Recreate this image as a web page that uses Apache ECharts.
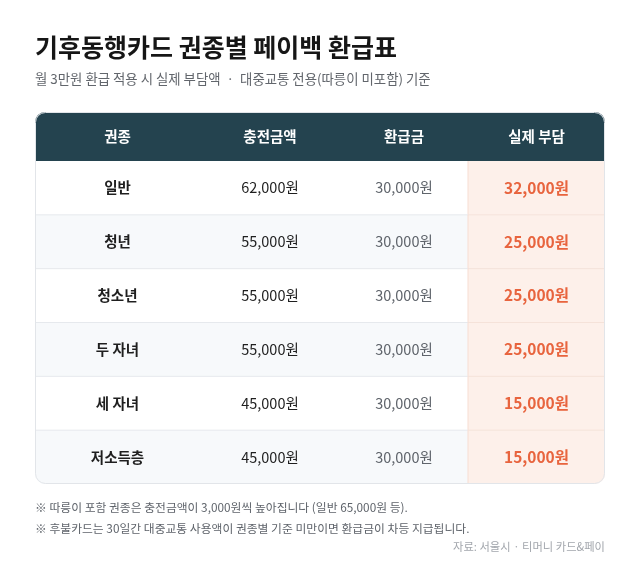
<!DOCTYPE html>
<html>
<head>
<meta charset="utf-8">
<script src="https://cdn.jsdelivr.net/npm/echarts@6/dist/echarts.min.js"></script>
<style>
  html, body { margin: 0; padding: 0; background: #fff; }
  #chart { width: 639px; height: 570px; }
</style>
</head>
<body>
<div id="chart"></div>
<script>
  // 표 데이터
  const columns = ['권종', '충전금액', '환급금', '실제 부담'];
  const passTypes = ['일반', '청년', '청소년', '두 자녀', '세 자녀', '저소득층'];
  const chargeAmounts = [62000, 55000, 55000, 55000, 45000, 45000];
  const refunds = [30000, 30000, 30000, 30000, 30000, 30000];
  const actualCosts = [32000, 25000, 25000, 25000, 15000, 15000];
  const notes = [
    '※ 따릉이 포함 권종은 충전금액이 3,000원씩 높아집니다 (일반 65,000원 등).',
    '※ 후불카드는 30일간 대중교통 사용액이 권종별 기준 미만이면 환급금이 차등 지급됩니다.'
  ];

  // 레이아웃
  const font = '"Noto Sans CJK KR", "Noto Sans", sans-serif';
  const tableLeft = 35, tableRight = 605, headTop = 112, headBottom = 161, tableBottom = 484;
  const colEdges = [0, 165, 305, 433, 570];
  const radius = 10;

  const won = v => v.toLocaleString('en-US') + '원';

  let cells = [];
  passTypes.forEach((p, r) => {
    for (let c = 0; c < 4; c++) cells.push([r, c]);
  });

  let cellText = (r, c) => {
    if (c === 0) return passTypes[r];
    if (c === 1) return won(chargeAmounts[r]);
    if (c === 2) return won(refunds[r]);
    return won(actualCosts[r]);
  };
  let cellStyle = c => [
    { fill: '#1f1f1f', fontWeight: 'bold', fontSize: 14.5 },
    { fill: '#1f1f1f', fontWeight: 'normal', fontSize: 14.5 },
    { fill: '#5f646b', fontWeight: 'normal', fontSize: 14.5 },
    { fill: '#e8643e', fontWeight: 'bold', fontSize: 15.5 }
  ][c];

  let chart = echarts.init(document.getElementById('chart'), null, { renderer: 'canvas' });

  let headerTexts = columns.map((name, i) => ({
    type: 'text',
    x: tableLeft + (colEdges[i] + colEdges[i + 1]) / 2,
    y: (headTop + headBottom) / 2,
    z: 5,
    style: {
      text: name, fill: '#fff', font: 'bold 14.5px ' + font,
      align: 'center', verticalAlign: 'middle'
    }
  }));

  let option = {
    animation: false,
    grid: { left: tableLeft, right: 639 - tableRight, top: headBottom, bottom: 570 - tableBottom },
    xAxis: { type: 'value', min: colEdges[0], max: colEdges[4], show: false },
    yAxis: { type: 'category', data: passTypes, inverse: true, show: false },
    series: [{
      type: 'custom',
      data: cells,
      clip: false,
      renderItem: (params, api) => {
        let r = api.value(0), c = api.value(1);
        let rowH = api.size([0, 1])[1];
        let p0 = api.coord([colEdges[c], r]);
        let p1 = api.coord([colEdges[c + 1], r]);
        let y0 = p0[1] - rowH / 2;
        let last = r === passTypes.length - 1;
        let rad = [0, 0, 0, 0];
        if (last && c === 0) rad = [0, 0, 0, radius];
        if (last && c === 3) rad = [0, 0, radius, 0];
        let fill = c === 3 ? '#fdf0ea' : (r % 2 ? '#f7f9fb' : '#ffffff');
        let children = [{
          type: 'rect',
          shape: { x: p0[0], y: y0, width: p1[0] - p0[0], height: rowH, r: rad },
          style: { fill: fill }
        }];
        if (r > 0) {
          children.push({
            type: 'line',
            shape: { x1: p0[0], y1: y0, x2: p1[0], y2: y0 },
            style: { stroke: c === 3 ? '#f5e2d9' : '#e6e9ed', lineWidth: 1 }
          });
        }
        if (c === 3) {
          children.push({
            type: 'line',
            shape: { x1: p0[0], y1: y0, x2: p0[0], y2: y0 + rowH },
            style: { stroke: '#f7ddd2', lineWidth: 1 }
          });
        }
        let st = cellStyle(c);
        children.push({
          type: 'text',
          x: (p0[0] + p1[0]) / 2,
          y: p0[1],
          style: {
            text: cellText(r, c), fill: st.fill,
            font: st.fontWeight + ' ' + st.fontSize + 'px ' + font,
            align: 'center', verticalAlign: 'middle'
          }
        });
        return { type: 'group', children: children };
      }
    }],
    graphic: [
      {
        type: 'text', left: 35, top: 35,
        style: { text: '기후동행카드 권종별 페이백 환급표', fill: '#161616', font: 'bold 25px ' + font }
      },
      {
        type: 'text', left: 35, top: 72,
        style: { text: '월 3만원 환급 적용 시 실제 부담액  ·  대중교통 전용(따릉이 미포함) 기준', fill: '#62666c', font: '13.4px ' + font }
      },
      {
        type: 'rect', z: 4,
        shape: { x: tableLeft, y: headTop, width: tableRight - tableLeft, height: headBottom - headTop, r: [radius, radius, 0, 0] },
        style: { fill: '#24434f' }
      },
      {
        type: 'rect', z: 6, silent: true,
        shape: { x: tableLeft + 0.5, y: headTop + 0.5, width: tableRight - tableLeft - 1, height: tableBottom - headTop - 1, r: radius },
        style: { fill: null, stroke: '#e2e5e9', lineWidth: 1 }
      },
      ...headerTexts,
      {
        type: 'text', left: 35, top: 502,
        style: { text: notes[0], fill: '#5f646b', font: '11.8px ' + font }
      },
      {
        type: 'text', left: 35, top: 523,
        style: { text: notes[1], fill: '#5f646b', font: '11.8px ' + font }
      },
      {
        type: 'text', right: 34, top: 541,
        style: { text: '자료: 서울시 · 티머니 카드&페이', fill: '#a3a7ad', font: '11.3px ' + font }
      }
    ]
  };

  chart.setOption(option);
</script>
</body>
</html>
